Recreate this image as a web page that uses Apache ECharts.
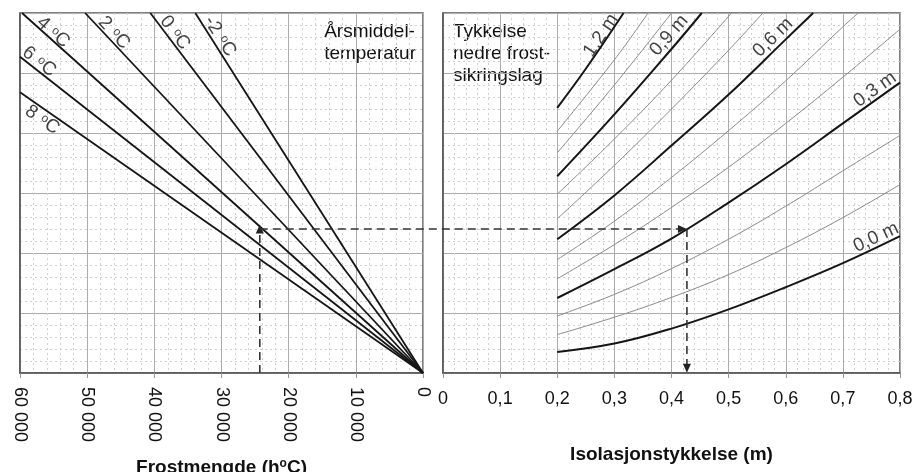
<!DOCTYPE html>
<html><head><meta charset="utf-8">
<script src="https://cdn.jsdelivr.net/npm/echarts@6/dist/echarts.min.js"></script>
<style>html,body{margin:0;padding:0;background:#fff}#c{width:916px;height:472px}</style>
</head><body><div id="c"></div>
<script>
// ---------- data ----------
// Left panel: frost amount (h°C) vs. common vertical scale, one straight line per mean annual temperature
const tempNames = ['8', '6', '4', '2', '0', '-2'];
const tempLineEnds = [[60000, 4.68], [60000, 5.27], [59700, 6.0], [50300, 6.0], [40600, 6.0], [33900, 6.0]];
const tempLineOrigin = [0, 0];
const tempLabelPos = [[56700, 4.22], [57170, 5.19], [55090, 5.68], [46000, 5.67], [36920, 5.67], [30220, 5.61]];

// Right panel: insulation thickness (m) curves for thickness of lower frost protection layer
const layerNames = ['0,0 m', '0,1 m', '0,2 m', '0,3 m', '0,4 m', '0,5 m', '0,6 m', '0,7 m', '0,8 m', '0,9 m', '1,0 m', '1,1 m', '1,2 m'];
const layerThick = [true, false, false, true, false, false, true, false, false, true, false, false, true];
const curve00 = [[0.2, 0.35], [0.3, 0.49], [0.4, 0.74], [0.5, 1.06], [0.6, 1.43], [0.7, 1.83], [0.8, 2.28]];
const curve01 = [[0.2, 0.64], [0.3, 0.93], [0.4, 1.26], [0.5, 1.64], [0.6, 2.09], [0.7, 2.59], [0.8, 3.14]];
const curve02 = [[0.2, 0.95], [0.3, 1.31], [0.4, 1.74], [0.5, 2.23], [0.6, 2.78], [0.7, 3.37], [0.8, 3.96]];
const curve03 = [[0.2, 1.25], [0.3, 1.73], [0.4, 2.24], [0.5, 2.84], [0.6, 3.48], [0.7, 4.16], [0.8, 4.84]];
const curve04 = [[0.2, 1.57], [0.3, 2.14], [0.4, 2.76], [0.5, 3.43], [0.6, 4.16], [0.7, 4.93], [0.8, 5.73]];
const curve05 = [[0.2, 1.89], [0.3, 2.53], [0.4, 3.26], [0.5, 4.04], [0.6, 4.87], [0.7, 5.77], [0.727, 6.0]];
const curve06 = [[0.2, 2.23], [0.3, 2.96], [0.4, 3.79], [0.5, 4.64], [0.6, 5.56], [0.648, 6.0]];
const curve07 = [[0.2, 2.57], [0.3, 3.46], [0.4, 4.40], [0.5, 5.38], [0.56, 6.0]];
const curve08 = [[0.2, 2.98], [0.3, 3.90], [0.4, 4.88], [0.505, 6.0]];
const curve09 = [[0.2, 3.28], [0.3, 4.31], [0.4, 5.40], [0.453, 6.0]];
const curve10 = [[0.2, 3.67], [0.3, 4.80], [0.4, 6.0]];
const curve11 = [[0.2, 4.03], [0.3, 5.22], [0.359, 6.0]];
const curve12 = [[0.2, 4.42], [0.25, 5.07], [0.316, 6.0]];
const curves = [curve00, curve01, curve02, curve03, curve04, curve05, curve06, curve07, curve08, curve09, curve10, curve11, curve12];
const layerLabelText = ['1,2 m', '0,9 m', '0,6 m', '0,3 m', '0,0 m'];
const layerLabelCurve = [12, 9, 6, 3, 0];
const layerLabelPos = [[0.2766, 5.625], [0.3956, 5.625], [0.5777, 5.59], [0.7562, 4.725], [0.758, 2.26]];

// Worked example (dashed arrows)
const exampleFrost = 24300;
const exampleLevel = 2.4;
const exampleInsulation = 0.427;

// ---------- chart ----------
const FONT = 'Liberation Sans, Arial, sans-serif';
const chart = echarts.init(document.getElementById('c'), null, {renderer: 'canvas'});

const majorSplit = {show: true, lineStyle: {color: '#acacac', width: 1}};
const minorSplit = {show: true, lineStyle: {color: '#d0d0d0', width: 1, type: [2, 3]}};
const borderLine = {show: true, onZero: false, lineStyle: {color: '#555', width: 1.5}};
const tickCfg = {show: true, length: 5, inside: false, lineStyle: {color: '#999', width: 1}};

function yAxisCfg(gi) {
  return {type: 'value', gridIndex: gi, min: 0, max: 6, interval: 1,
    axisLabel: {show: false}, axisTick: {show: false}, axisLine: borderLine,
    splitLine: majorSplit, minorTick: {show: false, splitNumber: 5}, minorSplitLine: minorSplit};
}

const series = [];
tempNames.forEach((t, i) => {
  series.push({type: 'line', name: t + ' °C', xAxisIndex: 0, yAxisIndex: 0, data: [tempLineOrigin, tempLineEnds[i]],
    symbol: 'none', lineStyle: {color: '#151515', width: 1.8}, z: 5, silent: true});
});
curves.forEach((c, i) => {
  series.push({type: 'line', name: layerNames[i], xAxisIndex: 1, yAxisIndex: 1, data: c, smooth: 0.4,
    symbol: 'none', lineStyle: layerThick[i] ? {color: '#151515', width: 2} : {color: '#8a8a8a', width: 1}, z: layerThick[i] ? 6 : 5, silent: true});
});
// dashed example lines
series.push({type: 'line', id: 'exLeft', xAxisIndex: 0, yAxisIndex: 0,
  data: [{value: [exampleFrost, 0], symbol: 'none'}, {value: [exampleFrost, exampleLevel], symbol: 'triangle', symbolSize: [8, 9]}],
  showSymbol: true, itemStyle: {color: '#222'}, lineStyle: {color: '#333', width: 1.6, type: [8, 5]}, z: 7, silent: true});
series.push({type: 'line', id: 'exRight', xAxisIndex: 1, yAxisIndex: 1,
  data: [{value: [exampleInsulation, exampleLevel], symbol: 'none'}, {value: [exampleInsulation, 0.08], symbol: 'triangle', symbolRotate: 180, symbolSize: [8, 9]}],
  showSymbol: true, itemStyle: {color: '#222'}, lineStyle: {color: '#333', width: 1.6, type: [8, 5]}, z: 7, silent: true});

const labelRich = {
  n: {fontFamily: FONT, fontSize: 19, color: '#111'},
  s: {fontFamily: FONT, fontSize: 12, color: '#111', verticalAlign: 'top', padding: [1, 0, 0, 1]}
};
const hiddenItem = {color: 'rgba(0,0,0,0)'};
series.push({type: 'scatter', id: 'leftLabels', xAxisIndex: 0, yAxisIndex: 0, symbolSize: 1, itemStyle: hiddenItem, z: 8, silent: true, data: []});
series.push({type: 'scatter', id: 'rightLabels', xAxisIndex: 1, yAxisIndex: 1, symbolSize: 1, itemStyle: hiddenItem, z: 8, silent: true, data: []});

const titleGraphics = [
  {type: 'text', right: 500, top: 21, style: {text: 'Årsmiddel-\ntemperatur', font: '19px ' + FONT, fill: '#111', align: 'right', lineHeight: 22}},
  {type: 'text', left: 453, top: 21, style: {text: 'Tykkelse\nnedre frost-\nsikringslag', font: '19px ' + FONT, fill: '#111', lineHeight: 22}}
];

const option = {
  animation: false,
  backgroundColor: '#fff',
  textStyle: {fontFamily: FONT},
  grid: [
    {left: 20, top: 13, width: 403, height: 360, show: true, borderColor: '#555', borderWidth: 1.5, outerBoundsMode: 'none', containLabel: false},
    {left: 443, top: 13, width: 457, height: 360, show: true, borderColor: '#555', borderWidth: 1.5, outerBoundsMode: 'none', containLabel: false}
  ],
  xAxis: [
    {type: 'value', gridIndex: 0, min: 0, max: 60000, interval: 10000, inverse: true,
      axisLine: borderLine, axisTick: tickCfg,
      axisLabel: {rotate: -90, margin: 14, fontSize: 18, color: '#111', fontFamily: FONT,
        formatter: v => v === 0 ? '0' : (v / 1000) + ' 000'},
      splitLine: majorSplit, minorTick: {show: false, splitNumber: 5}, minorSplitLine: minorSplit,
      name: 'Frostmengde (h{s|o}C)', nameLocation: 'middle', nameGap: 85,
      nameTextStyle: {fontFamily: FONT, fontWeight: 'bold', fontSize: 19, color: '#111',
        rich: {s: {fontFamily: FONT, fontWeight: 'bold', fontSize: 12, color: '#111', verticalAlign: 'top'}}}},
    {type: 'value', gridIndex: 1, min: 0, max: 0.8, interval: 0.1,
      axisLine: borderLine, axisTick: tickCfg,
      axisLabel: {margin: 17, fontSize: 18, color: '#111', fontFamily: FONT, showMaxLabel: true, showMinLabel: true,
        formatter: v => v === 0 ? '0' : v.toFixed(1).replace('.', ',')},
      splitLine: majorSplit, minorTick: {show: false, splitNumber: 5}, minorSplitLine: minorSplit,
      name: 'Isolasjonstykkelse (m)', nameLocation: 'middle', nameGap: 72,
      nameTextStyle: {fontFamily: FONT, fontWeight: 'bold', fontSize: 19, color: '#111'}}
  ],
  yAxis: [yAxisCfg(0), yAxisCfg(1)],
  graphic: titleGraphics,
  series: series
};
chart.setOption(option);

// ---------- second pass: label rotations & connecting dashed line from the library's scales ----------
function pix(gi, p) { return chart.convertToPixel({gridIndex: gi}, p); }
function angleOf(a, b) {
  let dx = b[0] - a[0], dy = b[1] - a[1];
  if (dx < 0) { dx = -dx; dy = -dy; }
  return -Math.atan2(dy, dx) * 180 / Math.PI;
}
const leftLabelData = tempNames.map((t, i) => {
  const r = angleOf(pix(0, tempLineOrigin), pix(0, tempLineEnds[i]));
  return {value: tempLabelPos[i], label: {show: true, position: 'inside', rotate: r,
    formatter: '{n|' + t + ' }{s|o}{n|C}', rich: labelRich}};
});
const rightLabelData = layerLabelText.map((t, i) => {
  const c = curves[layerLabelCurve[i]];
  const x = layerLabelPos[i][0];
  let k = 0;
  while (k < c.length - 2 && c[k + 1][0] < x) k++;
  const r = angleOf(pix(1, c[k]), pix(1, c[k + 1]));
  return {value: layerLabelPos[i], label: {show: true, position: 'inside', rotate: r,
    formatter: t, fontSize: 19, fontFamily: FONT, color: '#111'}};
});
const pA = pix(0, [exampleFrost, exampleLevel]);
const pB = pix(1, [exampleInsulation, exampleLevel]);
chart.setOption({
  series: [{id: 'leftLabels', data: leftLabelData}, {id: 'rightLabels', data: rightLabelData}],
  graphic: titleGraphics.concat([
    {type: 'line', z: 100, shape: {x1: pA[0], y1: pA[1], x2: pB[0] - 6, y2: pB[1]},
      style: {stroke: '#333', lineWidth: 1.6, lineDash: [8, 5]}},
    {type: 'polygon', z: 101, shape: {points: [[pB[0], pB[1]], [pB[0] - 9, pB[1] - 4], [pB[0] - 9, pB[1] + 4]]},
      style: {fill: '#222'}}
  ])
});
</script></body></html>
